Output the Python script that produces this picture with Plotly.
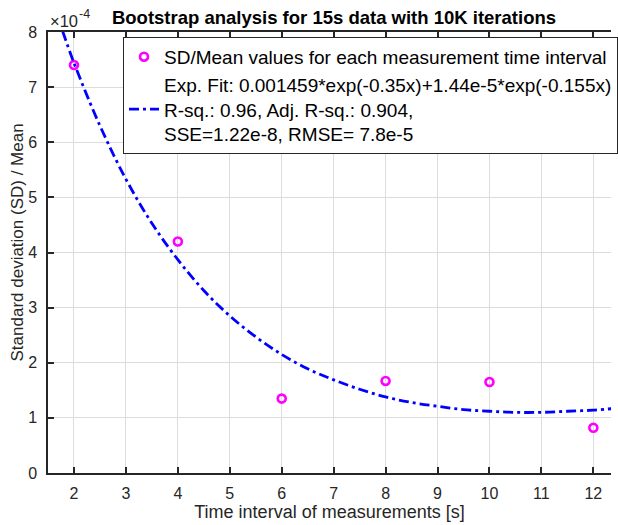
import plotly.graph_objects as go

# Data
interval_s = [2, 4, 6, 8, 10, 12]
sd_over_mean = [7.40e-4, 4.20e-4, 1.35e-4, 1.67e-4, 1.65e-4, 0.82e-4]

# Fitted curve values
fit_x = [1.78, 2, 2.5, 3, 3.5, 4, 4.5, 5, 5.5, 6, 6.5, 7, 7.5, 8, 8.5, 9,
         9.5, 10, 10.5, 11, 11.5, 12, 12.5]
fit_y = [8.02e-4, 7.44e-4, 6.30e-4, 5.33e-4, 4.53e-4, 3.87e-4, 3.31e-4,
         2.85e-4, 2.47e-4, 2.15e-4, 1.89e-4, 1.69e-4, 1.52e-4, 1.38e-4,
         1.28e-4, 1.21e-4, 1.15e-4, 1.12e-4, 1.10e-4, 1.10e-4, 1.12e-4,
         1.14e-4, 1.18e-4]

x_ticks = [2, 3, 4, 5, 6, 7, 8, 9, 10, 11, 12]
y_tick_vals = [0, 1e-4, 2e-4, 3e-4, 4e-4, 5e-4, 6e-4, 7e-4, 8e-4]
y_tick_text = ["0", "1", "2", "3", "4", "5", "6", "7", "8"]

name_points = "SD/Mean values for each measurement time interval"
name_fit = ("Exp. Fit: 0.001459*exp(-0.35x)+1.44e-5*exp(-0.155x)<br>"
            "R-sq.: 0.96, Adj. R-sq.: 0.904,<br>"
            "SSE=1.22e-8, RMSE= 7.8e-5")
y_title = "Standard deviation (SD) / Mean"
x_title = "Time interval of measurements [s]"
chart_title = "Bootstrap analysis for 15s data with 10K iterations"
exp_base = "×10"
exp_power = "-4"

FONT = "Liberation Sans, Arial, sans-serif"
AXC = "#262626"

fig = go.Figure()
fig.add_trace(go.Scatter(
    x=interval_s, y=sd_over_mean, mode="markers", name=name_points,
    marker=dict(symbol="circle-open", size=8, color="#FF00FF",
                line=dict(width=2.6, color="#FF00FF")),
))
fig.add_trace(go.Scatter(
    x=fit_x, y=fit_y, mode="lines", name=name_fit, line_shape="spline",
    line=dict(color="#0000FF", width=2.8, dash="10px,4px,3px,4px"),
))

fig.update_layout(
    width=618, height=525,
    margin=dict(l=48, r=0, t=32, b=52),
    paper_bgcolor="white", plot_bgcolor="white",
    font=dict(family=FONT, size=16, color=AXC),
    title=dict(text="<b>" + chart_title + "</b>",
               font=dict(family=FONT, size=18.5, color="black"),
               xref="paper", x=0.508, xanchor="center",
               yref="container", y=1 - 17.5 / 525, yanchor="middle"),
    showlegend=True,
    legend=dict(x=0.1333, y=0.989, xanchor="left", yanchor="top",
                bgcolor="white", bordercolor=AXC, borderwidth=1,
                font=dict(family=FONT, size=19, color="black"),
                tracegroupgap=0, itemwidth=30),
    xaxis=dict(range=[1.5, 12.34], tickvals=x_ticks,
               ticks="inside", ticklen=6, tickwidth=1.5, tickcolor=AXC,
               showline=True, linecolor=AXC, linewidth=1.5, mirror="ticks",
               showgrid=True, gridcolor="#dcdcdc", gridwidth=1,
               zeroline=False, ticklabelstandoff=5,
               tickfont=dict(family=FONT, size=16, color=AXC),
               title=dict(text=x_title,
                          font=dict(family=FONT, size=18, color=AXC), standoff=3)),
    yaxis=dict(range=[0, 8e-4], tickvals=y_tick_vals, ticktext=y_tick_text,
               ticks="inside", ticklen=6, tickwidth=1.5, tickcolor=AXC,
               showline=True, linecolor=AXC, linewidth=1.5, mirror=False,
               showgrid=True, gridcolor="#dcdcdc", gridwidth=1,
               zeroline=False, ticklabelstandoff=6,
               tickfont=dict(family=FONT, size=16, color=AXC)),
    annotations=[
        dict(text=exp_base, xref="paper", yref="paper",
             x=0, y=1, xanchor="left", yanchor="middle",
             showarrow=False, font=dict(family=FONT, size=16.5, color=AXC),
             xshift=0, yshift=11),
        dict(text=exp_power, xref="paper", yref="paper",
             x=0, y=1, xanchor="left", yanchor="middle",
             showarrow=False, font=dict(family=FONT, size=12.5, color=AXC),
             xshift=29, yshift=18),
        dict(text=y_title, xref="paper", yref="paper", textangle=-90,
             x=0, y=0.5, xanchor="center", yanchor="middle",
             showarrow=False, font=dict(family=FONT, size=17, color=AXC),
             xshift=-31, yshift=10),
    ],
)

fig.write_html("out.html")
